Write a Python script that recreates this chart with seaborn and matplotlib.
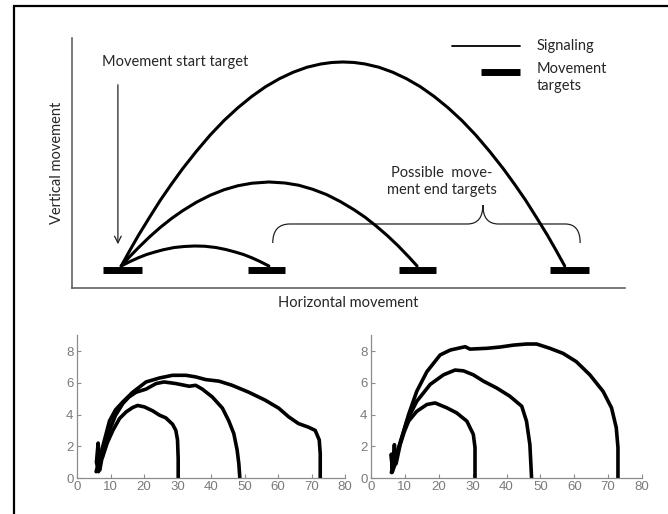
"""
Schematic of signaling vs. movement targets, plus two panels of recorded trajectories
"""
import matplotlib
matplotlib.use("Agg")
import matplotlib.pyplot as plt
from matplotlib.path import Path
from matplotlib.patches import PathPatch, Rectangle
import pandas as pd
import seaborn as sns

# ---- top schematic (axis units 0-100 on both axes) ----
target_x = [[5.6, 12.7], [31.8, 38.5], [59.1, 65.8], [86.4, 93.5]]
target_y = 7.0

arc_short_x = [8.9, 10.5, 12, 13.5, 15, 16.5, 18.5, 20.3, 22.2, 24, 26, 27.8, 29.5, 31,
               32.5, 34, 35.6]
arc_short_y = [8.8, 10.6, 12.1, 13.4, 14.4, 15.3, 16.2, 16.6, 16.8, 16.7, 16.2, 15.4,
               14.4, 13.4, 12.1, 10.6, 8.8]
arc_mid_x = [8.9, 10.5, 12, 14, 16, 18, 20, 22.5, 25, 27.5, 30, 32.5, 35.6, 38.5, 41,
             43.5, 46, 48.5, 51, 53, 55, 57, 59, 61, 62.4]
arc_mid_y = [8.8, 12.7, 16.1, 20.4, 24.3, 27.8, 30.9, 34.3, 37.1, 39.3, 40.9, 41.9, 42.4,
             42.0, 41.1, 39.5, 37.4, 34.6, 31.3, 28.3, 24.8, 21.0, 16.8, 12.2, 8.8]
arc_long_x = [8.9, 10.5, 12, 14, 16, 18, 20, 22.5, 25, 27.5, 30, 32.5, 35, 37.5, 40,
              42.5, 45, 47, 49, 51, 53, 55.5, 58, 60.5, 63, 65.5, 68, 70.5, 73, 75.5,
              78, 80, 82, 84, 86, 87.5, 89.1]
arc_long_y = [8.8, 15.2, 21.0, 28.2, 35.2, 41.6, 47.7, 54.7, 61.2, 67.0, 72.1, 76.6,
              80.5, 83.7, 86.3, 88.3, 89.6, 90.2, 90.4, 90.2, 89.6, 88.3, 86.3, 83.7,
              80.5, 76.6, 72.1, 67.0, 61.2, 54.7, 47.7, 41.6, 35.2, 28.2, 21.0, 15.2, 8.8]

arrow_x = 8.3
arrow_y = [82.4, 16.4]

brace_x = [36.3, 36.3, 39.4, 71.5, 74.3, 74.3, 74.3, 77.1, 89.2, 91.9, 91.9]
brace_y = [18.0, 25.6, 25.6, 25.6, 25.6, 33.2, 25.6, 25.6, 25.6, 25.6, 18.0]

# ---- bottom trajectories (x, y) ----
left_short_x = [6.4, 5.8, 6.3, 6.7, 7.6, 9.0, 10.7, 12.7, 14.7, 16.6, 18.1, 20.1, 22.6,
                24.6, 26.5, 28.5, 29.5, 30.0, 30.2, 30.2]
left_short_y = [0.4, 1.0, 2.2, 1.1, 1.3, 2.2, 3.0, 3.75, 4.17, 4.44, 4.57, 4.48, 4.23,
                3.96, 3.79, 3.39, 3.0, 2.4, 1.2, 0.0]
left_mid_x = [6.2, 6.8, 7.3, 8.3, 9.7, 11.5, 13.7, 15.5, 17.6, 20.6, 23.6, 26.0, 29.5,
              33.5, 35.4, 37.4, 40.4, 43.4, 45.3, 46.8, 47.8, 48.3, 48.6]
left_mid_y = [0.7, 0.5, 1.1, 2.0, 3.0, 3.95, 4.7, 5.1, 5.4, 5.6, 5.95, 6.05, 5.95,
              5.78, 5.84, 5.6, 5.1, 4.4, 3.6, 2.8, 1.76, 0.9, 0.0]
left_long_x = [5.7, 6.5, 7.2, 8.2, 9.7, 11.5, 13.7, 16.6, 20.6, 24.6, 28.5, 32.5, 35.4,
               38.4, 42.4, 46.3, 51.3, 56.2, 60.2, 63.2, 66.1, 69.1, 71.1, 72.3, 72.6, 72.6]
left_long_y = [0.4, 1.0, 1.6, 2.4, 3.6, 4.3, 4.8, 5.4, 6.05, 6.3, 6.47, 6.47, 6.37,
               6.2, 6.1, 5.84, 5.4, 4.9, 4.4, 3.85, 3.43, 3.2, 3.0, 2.4, 1.55, 0.0]

right_short_x = [6.2, 6.9, 7.4, 8.6, 9.8, 11.1, 13.5, 16.5, 18.9, 22.4, 25.3, 28.3,
                 30.2, 30.7, 30.7]
right_short_y = [0.35, 2.1, 0.9, 2.1, 2.9, 3.58, 4.2, 4.63, 4.73, 4.42, 4.1, 3.58,
                 2.75, 1.92, 0.0]
right_mid_x = [6.2, 6.0, 6.3, 7.0, 8.1, 10.6, 13.5, 17.5, 21.4, 24.8, 27.3, 30.2,
               33.2, 37.1, 41.0, 44.5, 45.9, 46.9, 47.4]
right_mid_y = [0.67, 1.5, 0.4, 0.8, 1.9, 3.6, 4.83, 5.9, 6.5, 6.8, 6.75, 6.5, 6.1,
               5.67, 5.15, 4.52, 3.58, 2.1, 0.0]
right_long_x = [6.0, 7.7, 9.1, 11.1, 13.5, 16.5, 20.4, 23.4, 26.3, 27.8, 29.2, 34.2,
                38.1, 42.0, 45.9, 48.9, 52.8, 56.7, 60.6, 64.6, 68.5, 71.0, 72.4, 72.9, 72.9]
right_long_y = [0.35, 1.5, 2.54, 4.0, 5.46, 6.7, 7.75, 8.06, 8.2, 8.27, 8.12, 8.17,
                8.25, 8.37, 8.44, 8.44, 8.17, 7.85, 7.33, 6.5, 5.46, 4.42, 3.17, 1.92, 0.0]

x_ticks = [0, 10, 20, 30, 40, 50, 60, 70, 80]
y_ticks = [0, 2, 4, 6, 8]

sns.set_theme(style="white")
plt.rcParams["font.family"] = ["Lato", "DejaVu Sans"]
TXT = "#262626"

fig = plt.figure(figsize=(6.68, 5.14), dpi=100)

# outer frame (right/bottom fall outside the picture)
fig.patches.append(Rectangle((0.021, -0.05), 1.2, 1.038, transform=fig.transFigure,
                             fill=False, edgecolor="black", linewidth=1.6, clip_on=False))

# ---------------- schematic ----------------
ax = fig.add_axes([0.1078, 0.4397, 0.8278, 0.4864])
ax.set_xlim(0, 100)
ax.set_ylim(0, 100)
for xs, ys in [(arc_short_x, arc_short_y), (arc_mid_x, arc_mid_y), (arc_long_x, arc_long_y)]:
    sns.lineplot(x=xs, y=ys, sort=False, estimator=None, color="black", linewidth=2.2,
                 solid_joinstyle="round", ax=ax)
for xs in target_x:
    sns.lineplot(x=xs, y=[target_y, target_y], color="black", linewidth=5,
                 solid_capstyle="butt", ax=ax)

ax.annotate("", xy=(arrow_x, arrow_y[1]), xytext=(arrow_x, arrow_y[0]),
            arrowprops=dict(arrowstyle="->", lw=0.9, color="#222222", mutation_scale=12))
ax.text(5.4, 90.4, "Movement start target", fontsize=10.5, color=TXT, va="center")

codes = [Path.MOVETO, Path.CURVE3, Path.CURVE3, Path.LINETO, Path.CURVE3, Path.CURVE3,
         Path.CURVE3, Path.CURVE3, Path.LINETO, Path.CURVE3, Path.CURVE3]
ax.add_patch(PathPatch(Path(list(zip(brace_x, brace_y)), codes), fill=False,
                       edgecolor="#222222", linewidth=0.9))
ax.text(66.9, 42.6, "Possible  move-\nment end targets", fontsize=10.5, color=TXT,
        ha="center", va="center", linespacing=1.25)

# hand-made legend
sns.lineplot(x=[68.7, 81.0], y=[96.8, 96.8], color="black", linewidth=1.3, ax=ax)
sns.lineplot(x=[74.0, 81.0], y=[86.4, 86.4], color="black", linewidth=5,
             solid_capstyle="butt", ax=ax)
ax.text(84.1, 96.8, "Signaling", fontsize=10.5, color=TXT, va="center")
ax.text(84.1, 86.4 + 3.8, "Movement\ntargets", fontsize=10.5, color=TXT, va="top",
        linespacing=1.25)

ax.set_xticks([])
ax.set_yticks([])
sns.despine(ax=ax)
for side in ["left", "bottom"]:
    ax.spines[side].set_color("#555555")
    ax.spines[side].set_linewidth(1.1)
ax.set_xlabel("Horizontal movement", fontsize=10.5, color=TXT, labelpad=6)
ax.set_ylabel("Vertical movement", fontsize=10.5, color=TXT, labelpad=6)

# ---------------- trajectories ----------------
panels = [
    ([0.1153, 0.070, 0.4012, 0.278],
     [(left_short_x, left_short_y), (left_mid_x, left_mid_y), (left_long_x, left_long_y)]),
    ([0.5554, 0.070, 0.4057, 0.278],
     [(right_short_x, right_short_y), (right_mid_x, right_mid_y), (right_long_x, right_long_y)]),
]
for rect, trajs in panels:
    bx = fig.add_axes(rect)
    for xs, ys in trajs:
        df = pd.DataFrame({"x": xs, "y": ys})
        sns.lineplot(data=df, x="x", y="y", sort=False, estimator=None, color="black",
                     linewidth=2.6, solid_joinstyle="round", ax=bx)
    bx.set_xlim(0, 80)
    bx.set_ylim(0, 9)
    bx.set_xticks(x_ticks)
    bx.set_yticks(y_ticks)
    bx.set(xlabel="", ylabel="")
    sns.despine(ax=bx)
    for side in ["left", "bottom"]:
        bx.spines[side].set_color("#8c8c8c")
        bx.spines[side].set_linewidth(0.9)
    bx.tick_params(direction="in", length=3, width=0.8, color="#8c8c8c",
                   labelcolor="#7a7a7a", labelsize=9.5, pad=2.5, left=True, bottom=True)
    for lab in bx.get_xticklabels() + bx.get_yticklabels():
        lab.set_family("Liberation Sans")

fig.savefig("out.png", dpi=100)
